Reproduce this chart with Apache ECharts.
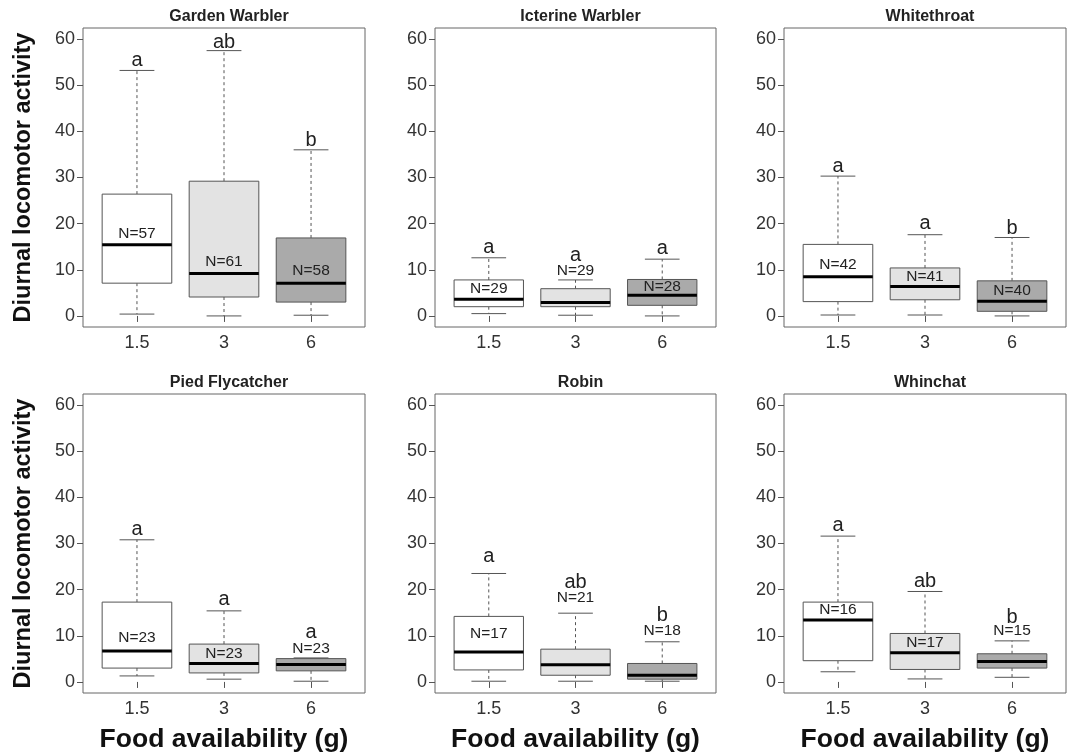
<!DOCTYPE html>
<html>
<head>
<meta charset="utf-8">
<script src="https://cdn.jsdelivr.net/npm/echarts@6/dist/echarts.min.js"></script>
<style>
html,body{margin:0;padding:0;background:#fff;}
#chart{width:1074px;height:756px;}
</style>
</head>
<body>
<div id="chart"></div>
<script>
// ---------- DATA ----------
const foodLevels = ['1.5', '3', '6'];
const yTicks = [0, 10, 20, 30, 40, 50, 60];
const species = ['Garden Warbler', 'Icterine Warbler', 'Whitethroat', 'Pied Flycatcher', 'Robin', 'Whinchat'];

// box stats per food level: [lower whisker, Q1, median, Q3, upper whisker]
const gardenWarblerBox = [[0.4, 7.1, 15.4, 26.4, 53.2], [0.0, 4.1, 9.2, 29.2, 57.5], [0.15, 3.0, 7.1, 16.9, 36.0]];
const icterineWarblerBox = [[0.5, 2.0, 3.6, 7.8, 12.6], [0.15, 2.0, 2.9, 5.9, 7.8], [0.0, 2.3, 4.5, 7.9, 12.3]];
const whitethroatBox = [[0.2, 3.1, 8.5, 15.5, 30.3], [0.2, 3.5, 6.4, 10.4, 17.6], [0.0, 1.0, 3.2, 7.6, 17.0]];
const piedFlycatcherBox = [[1.3, 3.0, 6.7, 17.3, 30.8], [0.6, 1.95, 4.0, 8.2, 15.4], [0.15, 2.4, 3.75, 5.05, 5.2]];
const robinBox = [[0.15, 2.6, 6.5, 14.2, 23.5], [0.15, 1.45, 3.7, 7.1, 14.9], [0.15, 0.6, 1.45, 4.0, 8.7]];
const whinchatBox = [[2.2, 4.6, 13.4, 17.3, 31.6], [0.65, 2.7, 6.35, 10.5, 19.6], [1.0, 3.0, 4.4, 6.1, 8.9]];

// sample sizes
const gardenWarblerN = [57, 61, 58];
const icterineWarblerN = [29, 29, 28];
const whitethroatN = [42, 41, 40];
const piedFlycatcherN = [23, 23, 23];
const robinN = [17, 21, 18];
const whinchatN = [16, 17, 15];

// significance letters
const gardenWarblerLetters = ['a', 'ab', 'b'];
const icterineWarblerLetters = ['a', 'a', 'a'];
const whitethroatLetters = ['a', 'a', 'b'];
const piedFlycatcherLetters = ['a', 'a', 'a'];
const robinLetters = ['a', 'ab', 'b'];
const whinchatLetters = ['a', 'ab', 'b'];

// annotation anchors in data units (letter, N label)
const gardenWarblerLetterY = [55.4, 59.3, 38.1];
const icterineWarblerLetterY = [14.8, 13.1, 14.6];
const whitethroatLetterY = [32.4, 20.0, 18.9];
const piedFlycatcherLetterY = [33.1, 17.8, 10.7];
const robinLetterY = [27.1, 21.5, 14.3];
const whinchatLetterY = [34.0, 21.7, 14.0];

const gardenWarblerNY = [17.9, 11.7, 9.9];
const icterineWarblerNY = [5.8, 9.7, 6.3];
const whitethroatNY = [11.0, 8.5, 5.5];
const piedFlycatcherNY = [9.6, 6.1, 7.1];
const robinNY = [10.5, 18.3, 11.0];
const whinchatNY = [15.6, 8.5, 11.0];

const yLabel = 'Diurnal locomotor activity';
const xLabel = 'Food availability (g)';

// ---------- LAYOUT / STYLE ----------
const boxes = [gardenWarblerBox, icterineWarblerBox, whitethroatBox, piedFlycatcherBox, robinBox, whinchatBox];
const ns = [gardenWarblerN, icterineWarblerN, whitethroatN, piedFlycatcherN, robinN, whinchatN];
const letters = [gardenWarblerLetters, icterineWarblerLetters, whitethroatLetters, piedFlycatcherLetters, robinLetters, whinchatLetters];
const letterYs = [gardenWarblerLetterY, icterineWarblerLetterY, whitethroatLetterY, piedFlycatcherLetterY, robinLetterY, whinchatLetterY];
const nYs = [gardenWarblerNY, icterineWarblerNY, whitethroatNY, piedFlycatcherNY, robinNY, whinchatNY];

const fillColors = ['#ffffff', '#e3e3e3', '#aaaaaa'];
const FONT = '"Liberation Sans", Arial, Helvetica, sans-serif';
const lefts = [83, 435, 784];
const widths = [282, 281, 282];
const tops = [28, 394];
const H = 299;

const grids = [], xAxes = [], yAxes = [], series = [], titles = [], graphics = [];

for (let p = 0; p < 6; p++) {
  const col = p % 3, row = Math.floor(p / 3);
  grids.push({
    left: lefts[col], top: tops[row], width: widths[col], height: H,
    show: true, borderColor: '#666', borderWidth: 1, backgroundColor: 'transparent',
    containLabel: false
  });
  xAxes.push({
    type: 'value', gridIndex: p, min: 0.38, max: 3.62,
    axisLine: { show: false },
    splitLine: { show: false },
    axisTick: { show: true, inside: false, length: 6, lineStyle: { color: '#555' }, customValues: [1, 2, 3] },
    axisLabel: {
      show: true, customValues: [1, 2, 3], margin: 7, fontSize: 18, color: '#333', fontFamily: FONT,
      formatter: v => foodLevels[Math.round(v) - 1]
    }
  });
  yAxes.push({
    type: 'value', gridIndex: p, min: -2.4, max: 62.4,
    axisLine: { show: false },
    splitLine: { show: false },
    axisTick: { show: true, inside: false, length: 6, lineStyle: { color: '#555' }, customValues: yTicks },
    axisLabel: { show: true, customValues: yTicks, margin: 8, fontSize: 18, color: '#333', fontFamily: FONT }
  });
  titles.push({
    text: species[p], left: lefts[col] + widths[col] / 2, top: row === 0 ? 4 : 370, textAlign: 'center',
    textStyle: { fontSize: 16, fontWeight: 'bold', color: '#222', fontFamily: FONT }
  });

  const data = boxes[p].map((b, i) => [i + 1, b[0], b[1], b[2], b[3], b[4]]);
  const pan = p;
  series.push({
    type: 'custom', coordinateSystem: 'cartesian2d', xAxisIndex: p, yAxisIndex: p,
    data: data, silent: true, clip: false,
    renderItem: function (params, api) {
      const i = params.dataIndex;
      const x = api.value(0);
      const lo = api.coord([x, api.value(1)]);
      const q1 = api.coord([x, api.value(2)]);
      const md = api.coord([x, api.value(3)]);
      const q3 = api.coord([x, api.value(4)]);
      const hi = api.coord([x, api.value(5)]);
      const bw = api.size([0.8, 0])[0];
      const hw = bw / 2, cw = bw / 4;
      const cx = lo[0];
      const lt = api.coord([x, letterYs[pan][i]]);
      const nt = api.coord([x, nYs[pan][i]]);
      const dash = { stroke: '#555', lineWidth: 1, lineDash: [3, 3] };
      const solid = { stroke: '#555', lineWidth: 1 };
      return {
        type: 'group',
        children: [
          { type: 'line', shape: { x1: cx, y1: q3[1], x2: cx, y2: hi[1] }, style: dash },
          { type: 'line', shape: { x1: cx, y1: q1[1], x2: cx, y2: lo[1] }, style: dash },
          { type: 'line', shape: { x1: cx - cw, y1: hi[1], x2: cx + cw, y2: hi[1] }, style: solid },
          { type: 'line', shape: { x1: cx - cw, y1: lo[1], x2: cx + cw, y2: lo[1] }, style: solid },
          { type: 'rect', shape: { x: cx - hw, y: q3[1], width: bw, height: q1[1] - q3[1] },
            style: { fill: fillColors[i], stroke: '#555', lineWidth: 1 } },
          { type: 'line', shape: { x1: cx - hw, y1: md[1], x2: cx + hw, y2: md[1] },
            style: { stroke: '#000', lineWidth: 3 } },
          { type: 'text', x: cx, y: lt[1],
            style: { text: letters[pan][i], font: '20px ' + FONT, fill: '#222',
              textAlign: 'center', textVerticalAlign: 'middle', align: 'center', verticalAlign: 'middle' } },
          { type: 'text', x: cx, y: nt[1],
            style: { text: 'N=' + ns[pan][i], font: '15.5px ' + FONT, fill: '#222',
              textAlign: 'center', textVerticalAlign: 'middle', align: 'center', verticalAlign: 'middle' } }
        ]
      };
    }
  });
}

// y-axis labels (left column) and x-axis labels (bottom row)
for (let row = 0; row < 2; row++) {
  graphics.push({
    type: 'text', x: 24, y: tops[row] + H / 2, rotation: Math.PI / 2,
    style: { text: yLabel, font: 'bold 23.5px ' + FONT, fill: '#111',
      textAlign: 'center', textVerticalAlign: 'middle', align: 'center', verticalAlign: 'middle' }
  });
}
for (let col = 0; col < 3; col++) {
  graphics.push({
    type: 'text', x: lefts[col] + widths[col] / 2, y: 740,
    style: { text: xLabel, font: 'bold 26.5px ' + FONT, fill: '#111',
      textAlign: 'center', textVerticalAlign: 'middle', align: 'center', verticalAlign: 'middle' }
  });
}

const chart = echarts.init(document.getElementById('chart'), null, { renderer: 'canvas' });
chart.setOption({
  backgroundColor: '#ffffff',
  animation: false,
  title: titles,
  grid: grids,
  xAxis: xAxes,
  yAxis: yAxes,
  series: series,
  graphic: graphics
});
</script>
</body>
</html>
